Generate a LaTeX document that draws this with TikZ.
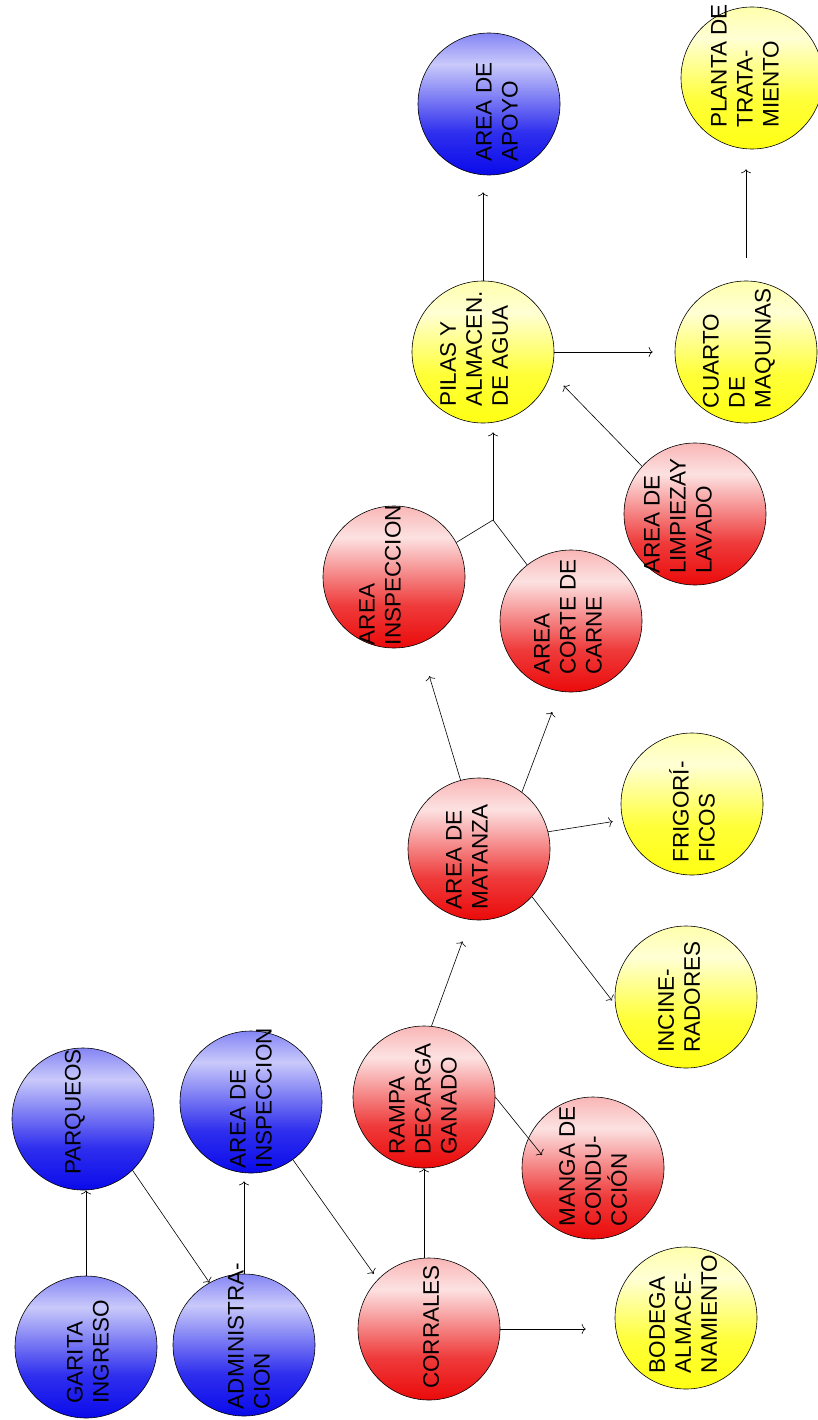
\documentclass[tikz,border=0pt]{standalone}
\usepackage{fontspec}
\setmainfont{Liberation Sans}
\usetikzlibrary{arrows.meta,calc}
\definecolor{bBlue}{RGB}{10,10,235}
\definecolor{bRed}{RGB}{235,10,10}
\definecolor{bYel}{RGB}{255,255,20}
\pgfdeclareverticalshading{blueS}{100bp}{color(0bp)=(bBlue); color(25bp)=(bBlue); color(40bp)=(bBlue!85!white); color(64bp)=(bBlue!22!white); color(75bp)=(bBlue!50!white); color(100bp)=(bBlue!50!white)}
\pgfdeclareverticalshading{redS}{100bp}{color(0bp)=(bRed); color(25bp)=(bRed); color(40bp)=(bRed!80!white); color(64bp)=(bRed!12!white); color(75bp)=(bRed!30!white); color(100bp)=(bRed!30!white)}
\pgfdeclareverticalshading{yelS}{100bp}{color(0bp)=(bYel); color(25bp)=(bYel); color(42bp)=(bYel!85!white); color(64bp)=(bYel!18!white); color(75bp)=(bYel!35!white); color(100bp)=(bYel!35!white)}
\tikzset{
  bub/.style={circle, draw=black, line width=0.6pt, minimum size=142pt, inner sep=0pt},
  bluebub/.style={bub, shading=blueS},
  redbub/.style={bub, shading=redS},
  yelbub/.style={bub, shading=yelS},
  lbl/.style={rotate=90, align=left, inner sep=0pt, font=\fontsize{22.5}{26}\selectfont},
  arr/.style={draw=black, line width=0.6pt, -{To[length=4pt,width=10pt]}},
  ln/.style={draw=black, line width=0.6pt}
}
\begin{document}
\begin{tikzpicture}[x=1pt,y=-1pt]
\useasboundingbox (0,0) rectangle (817,1420);
% bubbles
\node[bluebub] (garita) at (86,1347) {};
\node[bluebub] (parq) at (83,1119) {};
\node[bluebub] (admin) at (244,1345) {};
\node[bluebub] (inspa) at (251,1102) {};
\node[redbub] (corr) at (429,1329) {};
\node[redbub] (rampa) at (424,1097) {};
\node[redbub] (manga) at (593,1168) {};
\node[yelbub] (bodega) at (686,1318) {};
\node[yelbub] (incin) at (686,997) {};
\node[yelbub] (frig) at (692,804) {};
\node[redbub] (mat) at (479,849) {};
\node[redbub] (corte) at (571,621) {};
\node[redbub] (inspb) at (394,577) {};
\node[redbub] (limp) at (695,514) {};
\node[yelbub] (pilas) at (483,352) {};
\node[yelbub] (cuarto) at (746,352) {};
\node[bluebub] (apoyo) at (489,104) {};
\node[yelbub] (planta) at (752,78) {};
% labels
\node[lbl] (tgarita) at ($(garita)+(2,5)$) {GARITA\\INGRESO};
\node[lbl] (tparq) at ($(parq)+(-8,-7)$) {PARQUEOS};
\node[lbl] (tadmin) at ($(admin)+(5,-9)$) {ADMINISTRA-\\CION};
\node[lbl] (tinspa) at ($(inspa)+(0,-4)$) {AREA DE\\INSPECCION};
\node[lbl] (tcorr) at ($(corr)+(2,-2)$) {CORRALES};
\node[lbl] (trampa) at ($(rampa)+(-1,2)$) {RAMPA\\DECARGA\\GANADO};
\node[lbl] (tmanga) at ($(manga)+(0,-2)$) {MANGA DE\\CONDU-\\CCIÓN};
\node[lbl] (tbodega) at ($(bodega)+(-3,-4)$) {BODEGA\\ALMACE-\\NAMIENTO};
\node[lbl] (tincin) at ($(incin)+(-7,0)$) {INCINE-\\RADORES};
\node[lbl] (tfrig) at ($(frig)+(0,8)$) {FRIGORÍ-\\FICOS};
\node[lbl] (tmat) at ($(mat)+(-12,8)$) {AREA DE\\MATANZA};
\node[lbl] (tcorte) at ($(corte)+(-3,-4)$) {AREA\\CORTE DE\\CARNE};
\node[lbl] (tinspb) at ($(inspb)+(-14,-2)$) {AREA\\INSPECCION};
\node[lbl] (tlimp) at ($(limp)+(-17,2)$) {AREA DE\\LIMPIEZAY\\LAVADO};
\node[lbl] (tpilas) at ($(pilas)+(-9,-3)$) {PILAS Y\\ALMACEN.\\DE AGUA};
\node[lbl] (tcuarto) at ($(cuarto)+(-7,-4)$) {CUARTO\\DE\\MAQUINAS};
\node[lbl] (tapoyo) at ($(apoyo)+(8,8)$) {AREA DE\\APOYO};
\node[lbl] (tplanta) at ($(planta)+(-7,-12)$) {PLANTA DE\\TRATA-\\MIENTO};
% connectors
\draw[arr] (garita.north) -- (garita.north |- parq.south);
\draw[arr] (parq.-46) -- (admin.119);
\draw[arr, shorten >=8pt] (admin.north) -- (admin.north |- inspa.south);
\draw[arr, shorten >=7pt] (inspa.-54) -- (corr.136);
\draw[arr] (rampa.south |- corr.north) -- (rampa.south);
\draw[arr, shorten >=29pt] (corr.east) -- (corr.east -| bodega.west);
\coordinate (mangain) at ($(manga.center)+(-51,-13)$);
\draw[arr] (rampa.east) -- (mangain);
\draw[arr, shorten >=23pt] (rampa.84) -- (mat.-97);
\draw[arr, shorten >=5pt] (mat.-42) -- (incin.186);
\draw[arr, shorten >=10pt] (mat.14) -- (frig.193);
\draw[arr, shorten >=22pt] (mat.53) -- (corte.-99);
\draw[arr, shorten >=34pt] (mat.105) -- (inspb.-69);
\coordinate (jn) at (493,520);
\draw[ln] (inspb.29) -- (jn);
\draw[ln] (corte.128) -- (jn);
\draw[arr, shorten >=9pt] (jn) -- (jn |- pilas.south);
\draw[arr, shorten >=18pt] (limp.138) -- (pilas.-17);
\draw[arr, shorten >=22pt] (pilas.east) -- (pilas.east -| cuarto.west);
\draw[arr, shorten >=17pt] (pilas.north) -- (pilas.north |- apoyo.south);
\draw[arr, shorten <=23pt, shorten >=20pt] (cuarto.north) -- (cuarto.north |- planta.south);
\end{tikzpicture}
\end{document}
